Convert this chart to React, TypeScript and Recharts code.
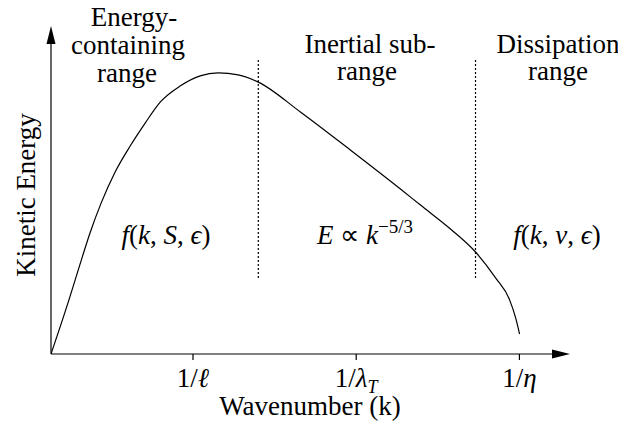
import React from "react";
import {
  LineChart,
  Line,
  XAxis,
  YAxis,
  ReferenceLine,
  Customized,
} from "recharts";

// Turbulent kinetic-energy spectrum sketch: E(k) versus wavenumber k
const kValues = [
  0, 0.11, 0.178, 0.239, 0.307, 0.393, 0.485, 0.577, 0.669, 0.791, 0.914,
  1.025, 1.147, 1.27, 1.528, 1.834, 2.141, 2.264, 2.448, 2.601, 2.724, 2.81,
  2.847, 2.871,
];
const energyValues = [
  0, 0.165, 0.274, 0.369, 0.46, 0.555, 0.634, 0.704, 0.768, 0.817, 0.848,
  0.857, 0.851, 0.829, 0.738, 0.622, 0.503, 0.454, 0.381, 0.311, 0.232, 0.165,
  0.11, 0.061,
];

// Characteristic wavenumbers marked on the k axis: 1/ℓ, 1/λ_T, 1/η
const tickValues = [0.87, 1.87, 2.87];
const tickSymbols = ["ℓ", "λ", "η"];
const tickSubscripts = ["", "T", ""];

// Boundaries between the three spectral ranges
const rangeBoundaries = [1.27, 2.601];
const boundaryExtent = [0.232, 0.896];

const K_MAX = 3.18;
const E_MAX = 1;

const data = kValues.map((k, i) => ({ k, energy: energyValues[i] }));

const SERIF_CSS = `
#root svg text, #root svg tspan, .spectrum text, .spectrum tspan {
  font-family: "Liberation Serif", serif !important;
}
`;

const textStyle: React.CSSProperties = {
  fontFamily: "Liberation Serif",
  fontSize: 27,
};

type ArrowProps = { x1?: number; y1?: number; x2?: number; y2?: number };

// Axis line with a filled arrowhead at its far end
const ArrowAxis = (props: ArrowProps) => {
  const x1 = Number(props.x1);
  const y1 = Number(props.y1);
  const x2 = Number(props.x2);
  const y2 = Number(props.y2);
  const dx = x2 - x1;
  const dy = y2 - y1;
  const len = Math.sqrt(dx * dx + dy * dy) || 1;
  const ux = dx / len;
  const uy = dy / len;
  const head = 18;
  const half = 4.5;
  const bx = x2 - ux * head;
  const by = y2 - uy * head;
  const px = -uy;
  const py = ux;
  return (
    <g>
      <line x1={x1} y1={y1} x2={bx} y2={by} stroke="#000" strokeWidth={1.2} />
      <polygon
        points={`${x2},${y2} ${bx + px * half},${by + py * half} ${bx - px * half},${by - py * half}`}
        fill="#000"
      />
    </g>
  );
};

type TickProps = { x?: number; y?: number; payload?: { value: number } };

const WaveTick = (props: TickProps) => {
  const x = Number(props.x);
  const y = Number(props.y);
  const idx = tickValues.indexOf(props.payload ? props.payload.value : -1);
  const sym = idx >= 0 ? tickSymbols[idx] : "";
  const sub = idx >= 0 ? tickSubscripts[idx] : "";
  return (
    <text x={x} y={y + 25} textAnchor="middle" fill="#000" style={textStyle}>
      <tspan>1/</tspan>
      <tspan fontStyle="italic">{sym}</tspan>
      {sub ? (
        <tspan fontStyle="italic" style={{ fontSize: 18 }} dy={6}>
          {sub}
        </tspan>
      ) : null}
    </text>
  );
};

// Titles of the ranges, the scaling laws and the axis titles
const Annotations = () => {
  const t = { fill: "#000", style: textStyle, textAnchor: "middle" as const };
  return (
    <g>
      <text {...t} x={126} y={18}>Energy-</text>
      <text {...t} x={120} y={46}>containing</text>
      <text {...t} x={119} y={74}>range</text>

      <text {...t} x={362} y={45}>Inertial sub-</text>
      <text {...t} x={359} y={72}>range</text>

      <text {...t} x={550} y={45}>Dissipation</text>
      <text {...t} x={550} y={72}>range</text>

      <text {...t} x={158} y={236}>
        <tspan fontStyle="italic">f</tspan>
        <tspan>(</tspan>
        <tspan fontStyle="italic">k</tspan>
        <tspan>, </tspan>
        <tspan fontStyle="italic">S</tspan>
        <tspan>, </tspan>
        <tspan fontStyle="italic">ϵ</tspan>
        <tspan>)</tspan>
      </text>

      <text {...t} x={357} y={236}>
        <tspan fontStyle="italic">E</tspan>
        <tspan> ∝ </tspan>
        <tspan fontStyle="italic">k</tspan>
        <tspan style={{ fontSize: 19 }} dy={-11}>−5/3</tspan>
      </text>

      <text {...t} x={549} y={236}>
        <tspan fontStyle="italic">f</tspan>
        <tspan>(</tspan>
        <tspan fontStyle="italic">k</tspan>
        <tspan>, </tspan>
        <tspan fontStyle="italic">ν</tspan>
        <tspan>, </tspan>
        <tspan fontStyle="italic">ϵ</tspan>
        <tspan>)</tspan>
      </text>

      <text {...t} x={0} y={0} transform="translate(27,187) rotate(-90)">
        Kinetic Energy
      </text>

      <text {...t} x={302} y={407}>Wavenumber (k)</text>
    </g>
  );
};

export default function App() {
  return (
    <div className="spectrum" style={{ fontFamily: "Liberation Serif" }}>
      <style>{SERIF_CSS}</style>
      <LineChart
        width={610}
        height={416}
        data={data}
        margin={{ top: 18, right: 48, bottom: 40, left: 43 }}
      >
        <XAxis
          type="number"
          dataKey="k"
          domain={[0, K_MAX]}
          ticks={tickValues}
          height={30}
          axisLine={false}
          tickLine={{ stroke: "#000", strokeWidth: 1.2 }}
          tickSize={6}
          tick={<WaveTick />}
          interval={0}
          allowDataOverflow
        />
        <YAxis hide type="number" domain={[0, E_MAX]} allowDataOverflow />

        {rangeBoundaries.map((kb) => (
          <ReferenceLine
            key={kb}
            segment={[
              { x: kb, y: boundaryExtent[0] },
              { x: kb, y: boundaryExtent[1] },
            ]}
            stroke="#000"
            strokeWidth={1.2}
            strokeDasharray="2 2"
            ifOverflow="visible"
          />
        ))}

        <ReferenceLine
          segment={[
            { x: 0, y: 0 },
            { x: 0, y: E_MAX },
          ]}
          ifOverflow="visible"
          shape={(p: ArrowProps) => <ArrowAxis {...p} />}
        />
        <ReferenceLine
          segment={[
            { x: 0, y: 0 },
            { x: K_MAX, y: 0 },
          ]}
          ifOverflow="visible"
          shape={(p: ArrowProps) => <ArrowAxis {...p} />}
        />

        <Line
          type="monotone"
          dataKey="energy"
          stroke="#000"
          strokeWidth={1.2}
          dot={false}
          isAnimationActive={false}
        />

        <Customized component={<Annotations />} />
      </LineChart>
    </div>
  );
}
